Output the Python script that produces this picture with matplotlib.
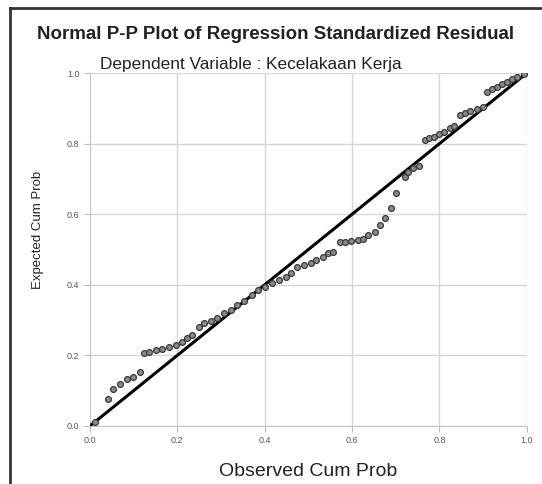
import matplotlib
matplotlib.use("Agg")
import matplotlib.pyplot as plt
from matplotlib.lines import Line2D

plt.rcParams['font.family'] = ['Liberation Sans', 'DejaVu Sans']

# Observed / expected cumulative probabilities
observed = [0.011, 0.041, 0.052, 0.068, 0.084, 0.098, 0.114, 0.123, 0.136, 0.152,
            0.166, 0.182, 0.198, 0.211, 0.223, 0.234, 0.250, 0.261, 0.277, 0.291,
            0.307, 0.323, 0.336, 0.352, 0.370, 0.385, 0.400, 0.416, 0.432, 0.448,
            0.461, 0.473, 0.489, 0.505, 0.518, 0.534, 0.545, 0.557, 0.573, 0.584,
            0.598, 0.614, 0.625, 0.636, 0.652, 0.664, 0.675, 0.689, 0.700, 0.720,
            0.727, 0.739, 0.754, 0.766, 0.777, 0.788, 0.800, 0.811, 0.823, 0.834,
            0.848, 0.859, 0.870, 0.886, 0.900, 0.909, 0.920, 0.932, 0.943, 0.955,
            0.966, 0.977, 0.993]
expected = [0.011, 0.076, 0.105, 0.119, 0.133, 0.139, 0.153, 0.207, 0.210, 0.215,
            0.218, 0.224, 0.229, 0.238, 0.249, 0.258, 0.280, 0.292, 0.297, 0.306,
            0.320, 0.329, 0.343, 0.354, 0.371, 0.384, 0.395, 0.405, 0.414, 0.422,
            0.433, 0.450, 0.456, 0.462, 0.470, 0.479, 0.490, 0.493, 0.521, 0.521,
            0.524, 0.527, 0.530, 0.541, 0.550, 0.569, 0.589, 0.618, 0.660, 0.705,
            0.720, 0.731, 0.737, 0.810, 0.816, 0.819, 0.827, 0.833, 0.844, 0.850,
            0.881, 0.887, 0.892, 0.898, 0.904, 0.946, 0.955, 0.960, 0.969, 0.975,
            0.983, 0.989, 0.997]

ticks = [0.0, 0.2, 0.4, 0.6, 0.8, 1.0]
tick_labels = ['0.0', '0.2', '0.4', '0.6', '0.8', '1.0']

fig = plt.figure(figsize=(5.42, 4.84), dpi=100)
ax = fig.add_axes([0.166, 0.120, 0.806, 0.729])

ax.plot([0, 1], [0, 1], color='black', linewidth=2.2, zorder=3)
ax.plot(observed, expected, linestyle='none', marker='o', markersize=4.2,
        markerfacecolor='#8a8a8a', markeredgecolor='#3a3a3a', markeredgewidth=0.9,
        zorder=4)

ax.set_xlim(0, 1)
ax.set_ylim(0, 1)
ax.set_xticks(ticks)
ax.set_yticks(ticks)
ax.set_xticklabels(tick_labels)
ax.set_yticklabels(tick_labels)
ax.tick_params(labelsize=6.5, labelcolor='#555555', color='#bbbbbb', length=4)
ax.grid(True, color='#d6d6d6', linewidth=1)
ax.set_axisbelow(True)
for side in ['top', 'right']:
    ax.spines[side].set_visible(False)
for side in ['left', 'bottom']:
    ax.spines[side].set_color('#c8c8c8')

ax.set_xlabel('Observed Cum Prob', fontsize=14, color='#222222')
ax.xaxis.set_label_coords(0.50, -0.105)
ax.set_ylabel('Expected Cum Prob', fontsize=9.5, color='#222222')
ax.yaxis.set_label_coords(-0.105, 0.555)

fig.text(0.508, 0.928, 'Normal P-P Plot of Regression Standardized Residual',
         ha='center', va='center', fontsize=13.5, fontweight='bold', color='#222222')
fig.text(0.462, 0.866, 'Dependent Variable : Kecelakaan Kerja',
         ha='center', va='center', fontsize=12.4, color='#222222')

# outer frame of the original output box
fig.add_artist(Line2D([10 / 542, 10 / 542], [0, 1 - 8 / 484], transform=fig.transFigure,
                      color='#333333', linewidth=2))
fig.add_artist(Line2D([10 / 542, 1], [1 - 8 / 484, 1 - 8 / 484], transform=fig.transFigure,
                      color='#333333', linewidth=2))

fig.savefig('out.png', dpi=100)
